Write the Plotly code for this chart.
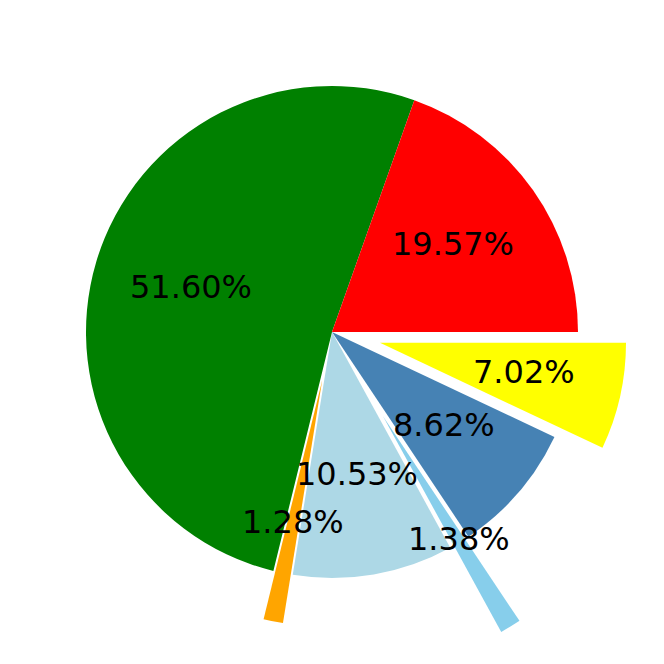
import math
import plotly.graph_objects as go

# Data (matplotlib-style pie: starts at 3 o'clock, counterclockwise)
labels = ["A", "B", "C", "D", "E", "F", "G"]
values = [19.57, 51.60, 1.28, 10.53, 1.38, 8.62, 7.02]
colors = ["#FF0000", "#008000", "#FFA500", "#ADD8E6", "#87CEEB", "#4682B4", "#FFFF00"]
explode = [0.0, 0.0, 0.2, 0.0, 0.4, 0.0, 0.2]
pct_texts = ["19.57%", "51.60%", "1.28%", "10.53%", "1.38%", "8.62%", "7.02%"]

W = H = 664
R_PX = 246            # pie radius in pixels
PAGE_OFFSET = 8       # default body margin of the html page
CX = (332 - PAGE_OFFSET) / W
CY = 1 - (332 - PAGE_OFFSET) / H
RF = R_PX / W         # radius as paper fraction
PCT_DIST = 0.6

total = sum(values)
# mid angle of each slice (math convention, degrees, ccw from 3 o'clock)
mids = []
cum = 0.0
for v in values:
    mids.append(360.0 * (cum + v / 2.0) / total)
    cum += v

# plotly clockwise from 3 o'clock with reversed order == matplotlib ccw from 3 o'clock
rv = values[::-1]
rlab = labels[::-1]
rcol = colors[::-1]
rexp = explode[::-1]

TRANSP = "rgba(0,0,0,0)"

fig = go.Figure()


def add_pie(slice_colors, cx, cy):
    fig.add_trace(go.Pie(
        labels=rlab, values=rv, sort=False, direction="clockwise", rotation=90,
        marker=dict(colors=slice_colors, line=dict(width=0)),
        textinfo="none", hoverinfo="skip", showlegend=False,
        domain=dict(x=[cx - RF, cx + RF], y=[cy - RF, cy + RF]),
    ))


# unexploded slices
add_pie([c if e == 0 else TRANSP for c, e in zip(rcol, rexp)], CX, CY)

# exploded slices, each as its own shifted pie
for i, e in enumerate(explode):
    if e == 0:
        continue
    a = math.radians(mids[i])
    cx = CX + e * RF * math.cos(a)
    cy = CY + e * RF * math.sin(a)
    slice_cols = [TRANSP] * len(rv)
    slice_cols[len(rv) - 1 - i] = colors[i]
    add_pie(slice_cols, cx, cy)

annotations = []
for i, t in enumerate(pct_texts):
    a = math.radians(mids[i])
    d = (explode[i] + PCT_DIST) * RF
    annotations.append(dict(
        x=CX + d * math.cos(a), y=CY + d * math.sin(a), xref="paper", yref="paper",
        text=t, showarrow=False, xanchor="center", yanchor="middle", yshift=3,
        font=dict(family="DejaVu Sans", size=32, color="black"),
    ))

fig.update_layout(
    width=W, height=H, margin=dict(l=0, r=0, t=0, b=0),
    paper_bgcolor="white", plot_bgcolor="white",
    annotations=annotations, showlegend=False,
)

fig.write_html("out.html")
